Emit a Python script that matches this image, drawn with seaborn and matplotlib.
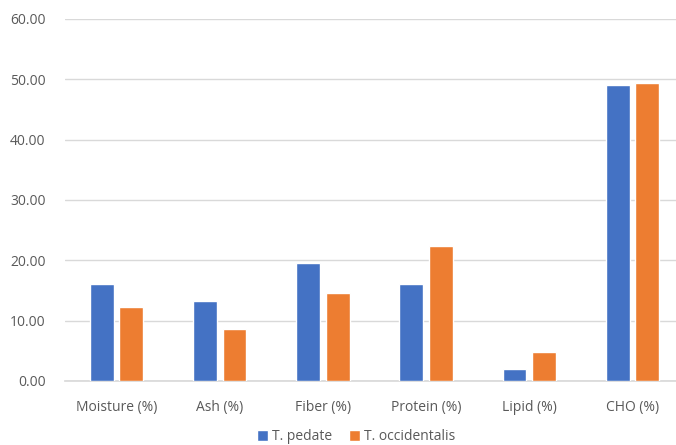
import pandas as pd
import matplotlib
matplotlib.use("Agg")
import matplotlib.pyplot as plt
import seaborn as sns

# values
categories = ["Moisture (%)", "Ash (%)", "Fiber (%)", "Protein (%)", "Lipid (%)", "CHO (%)"]
pedate = [16.0, 13.3, 19.5, 16.0, 2.0, 49.1]
occidentalis = [12.2, 8.6, 14.6, 22.4, 4.8, 49.4]
series_names = ["T. pedate", "T. occidentalis"]
yticks = [0, 10, 20, 30, 40, 50, 60]

df = pd.DataFrame({
    "category": categories * 2,
    "value": pedate + occidentalis,
    "species": [series_names[0]] * len(categories) + [series_names[1]] * len(categories),
})

sns.set_theme(style="white")
plt.rcParams["font.family"] = ["Open Sans", "DejaVu Sans"]
text_grey = "#595959"

fig = plt.figure(figsize=(6.76, 4.45), dpi=100)
ax = fig.add_axes([65 / 676, 1 - 381 / 445, 619 / 676, 362 / 445])

sns.barplot(data=df, x="category", y="value", hue="species",
            palette=["#4472C4", "#ED7D31"], width=0.573, gap=0.19,
            saturation=1, ax=ax, zorder=3)

ax.set_ylim(0, 60)
ax.set_yticks(yticks)
ax.set_yticklabels([f"{v:.2f}" for v in yticks])
ax.set_xlabel("")
ax.set_ylabel("")
ax.grid(axis="y", color="#D9D9D9", linewidth=1, zorder=0)
ax.set_axisbelow(True)
for side in ["top", "right", "left"]:
    ax.spines[side].set_visible(False)
ax.spines["bottom"].set_color("#D9D9D9")
ax.tick_params(axis="y", length=0, pad=14, labelsize=10, labelcolor=text_grey)
ax.tick_params(axis="x", length=0, pad=14, labelsize=10, labelcolor=text_grey)

ax.get_legend().remove()
handles, labels = ax.get_legend_handles_labels()
fig.legend(handles, labels, loc="center", bbox_to_anchor=(356 / 676, 1 - 437 / 445),
           ncol=2, frameon=False, fontsize=10, labelcolor=text_grey,
           handlelength=0.8, handleheight=0.8, handletextpad=0.3, columnspacing=1.2)

fig.savefig("out.png", dpi=100)
